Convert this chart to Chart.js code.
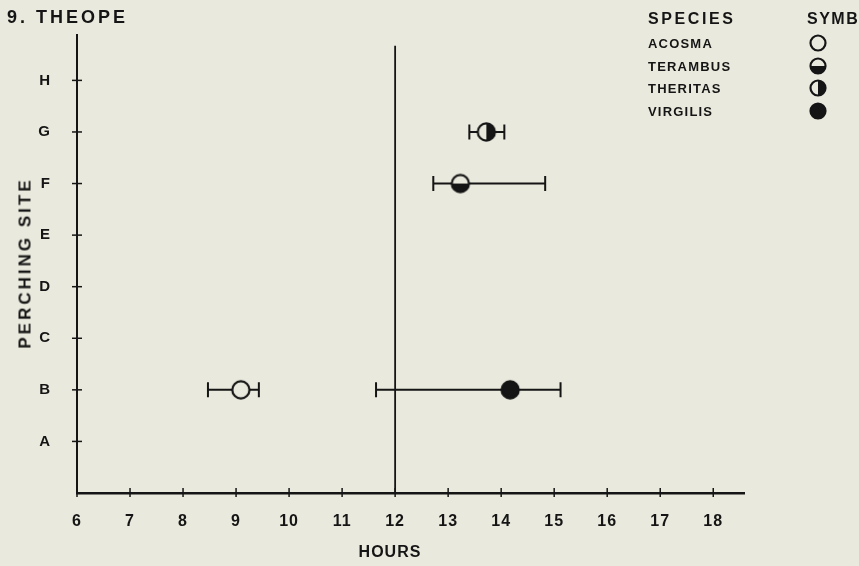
<!DOCTYPE html>
<html>
<head>
<meta charset="utf-8">
<script src="https://cdn.jsdelivr.net/npm/chart.js@4.4.1/dist/chart.umd.min.js"></script>
<style>
    html, body { margin: 0; padding: 0; background: #eae9dd; }
    #wrap { position: relative; width: 859px; height: 566px; font-family: 'Liberation Sans', Arial, sans-serif; font-weight: bold; color: #151515; }
    #plot { position: absolute; left: 0; top: 0; }
    .txt { position: absolute; white-space: nowrap; line-height: 1; }
    .head { font-size: 16px; letter-spacing: 2.6px; }
    .row { font-size: 13px; letter-spacing: 1.2px; }
    .sym { position: absolute; }
    #ytitle { left: 25px; top: 263px; font-size: 17px; letter-spacing: 3px; transform: translate(-50%, -50%) rotate(-90deg); }
    #xtitle { left: 390px; top: 552px; font-size: 16px; letter-spacing: 1px; transform: translate(-50%, -50%); }
</style>
</head>
<body>
<div id="wrap">
    <canvas id="plot" width="859" height="566"></canvas>
    <div class="txt" style="left:7px; top:8px; font-size:18px; letter-spacing:3px;">9. THEOPE</div>
    <div class="txt" id="ytitle">PERCHING SITE</div>
    <div class="txt" id="xtitle">HOURS</div>
    <div id="legend"></div>
</div>
<script>
const siteLabels = ['A', 'B', 'C', 'D', 'E', 'F', 'G', 'H'];
const hourTicks = [6, 7, 8, 9, 10, 11, 12, 13, 14, 15, 16, 17, 18];

const species = ['ACOSMA', 'TERAMBUS', 'THERITAS', 'VIRGILIS'];
const symbols = ['open', 'bottom', 'right', 'full'];
const speciesSite = [2, 6, 7, 2];          // B, F, G, B
const meanHour = [9.09, 13.23, 13.72, 14.17];
const lowHour = [8.47, 12.72, 13.4, 11.64];
const highHour = [9.43, 14.83, 14.06, 15.12];

const noonLine = [{ x: 12, y: 0 }, { x: 12, y: 8.67 }];

const INK = '#151515';
const PAPER = '#eae9dd';

function drawSymbol(ctx, cx, cy, r, kind) {
    ctx.fillStyle = PAPER;
    ctx.beginPath();
    ctx.arc(cx, cy, r, 0, Math.PI * 2);
    ctx.fill();
    ctx.fillStyle = INK;
    ctx.beginPath();
    if (kind === 'full') {
        ctx.arc(cx, cy, r, 0, Math.PI * 2);
    } else if (kind === 'bottom') {
        ctx.arc(cx, cy, r, 0, Math.PI);
    } else if (kind === 'right') {
        ctx.arc(cx, cy, r, -Math.PI / 2, Math.PI / 2);
    }
    ctx.fill();
    ctx.strokeStyle = INK;
    ctx.lineWidth = 2.2;
    ctx.beginPath();
    ctx.arc(cx, cy, r, 0, Math.PI * 2);
    ctx.stroke();
}

function symbolCanvas(kind, size, r) {
    const c = document.createElement('canvas');
    c.width = size;
    c.height = size;
    drawSymbol(c.getContext('2d'), size / 2, size / 2, r, kind);
    return c;
}

// legend block, top right
const legend = document.getElementById('legend');
legend.innerHTML = `
    <div class="txt head" style="left:648px; top:11px;">SPECIES</div>
    <div class="txt head" style="left:807px; top:11px; letter-spacing:1.5px;">SYMB</div>
    ${species.map((name, i) => `
        <div class="txt row" style="left:648px; top:${37 + i * 22.5}px;">${name}</div>
    `).join('')}
`;
species.forEach((name, i) => {
    const c = symbolCanvas(symbols[i], 20, 7.5);
    c.className = 'sym';
    c.style.left = (818 - 10) + 'px';
    c.style.top = (43 + i * 22.5 - 10) + 'px';
    legend.appendChild(c);
});

const errorBars = {
    id: 'errorBars',
    beforeDraw(chart) {
        chart.ctx.letterSpacing = '1px';
    },
    beforeDatasetsDraw(chart) {
        const { ctx, scales: { x, y }, chartArea } = chart;
        ctx.save();
        ctx.strokeStyle = INK;
        ctx.lineCap = 'butt';

        // tick marks crossing both axes
        ctx.lineWidth = 1.5;
        siteLabels.forEach((s, i) => {
            const py = y.getPixelForValue(i + 1);
            ctx.beginPath();
            ctx.moveTo(chartArea.left - 5, py);
            ctx.lineTo(chartArea.left + 5, py);
            ctx.stroke();
        });
        hourTicks.forEach(h => {
            const px = x.getPixelForValue(h);
            ctx.beginPath();
            ctx.moveTo(px, chartArea.bottom - 5);
            ctx.lineTo(px, chartArea.bottom + 4);
            ctx.stroke();
        });

        // range bars with end caps
        ctx.lineWidth = 2;
        species.forEach((name, i) => {
            const py = y.getPixelForValue(speciesSite[i]);
            const x0 = x.getPixelForValue(lowHour[i]);
            const x1 = x.getPixelForValue(highHour[i]);
            ctx.beginPath();
            ctx.moveTo(x0, py);
            ctx.lineTo(x1, py);
            ctx.moveTo(x0, py - 7.5);
            ctx.lineTo(x0, py + 7.5);
            ctx.moveTo(x1, py - 7.5);
            ctx.lineTo(x1, py + 7.5);
            ctx.stroke();
        });
        ctx.restore();
    }
};

const datasets = [{
    type: 'line',
    data: noonLine,
    borderColor: INK,
    borderWidth: 1.8,
    pointRadius: 0,
    order: 10
}];
species.forEach((name, i) => {
    datasets.push({
        type: 'scatter',
        label: name,
        data: [{ x: meanHour[i], y: speciesSite[i] }],
        pointStyle: symbolCanvas(symbols[i], 22, 8.6),
        pointRadius: 9,
        order: 1
    });
});

const tickFont = { family: "'Liberation Sans', Arial, sans-serif", size: 16, weight: 'bold' };

new Chart(document.getElementById('plot'), {
    data: { datasets },
    plugins: [errorBars],
    options: {
        responsive: false,
        animation: false,
        events: [],
        layout: { padding: { top: 32, right: 115, left: 0, bottom: 0 } },
        plugins: {
            legend: { display: false },
            tooltip: { enabled: false }
        },
        scales: {
            x: {
                type: 'linear',
                min: 6,
                max: 18.58,
                afterFit(scale) { scale.height = 73; },
                afterBuildTicks(scale) { scale.ticks = hourTicks.map(v => ({ value: v })); },
                ticks: { color: INK, font: tickFont, padding: 19 },
                grid: { display: false, drawTicks: false },
                border: { color: INK, width: 2.5 }
            },
            y: {
                type: 'linear',
                min: 0,
                max: 8.88,
                afterFit(scale) { scale.width = 77; },
                afterBuildTicks(scale) { scale.ticks = siteLabels.map((s, i) => ({ value: i + 1 })); },
                ticks: {
                    color: INK,
                    font: { ...tickFont, size: 15 },
                    padding: 26,
                    callback: v => siteLabels[v - 1] || ''
                },
                grid: { display: false, drawTicks: false },
                border: { color: INK, width: 2 }
            }
        }
    }
});
</script>
</body>
</html>
